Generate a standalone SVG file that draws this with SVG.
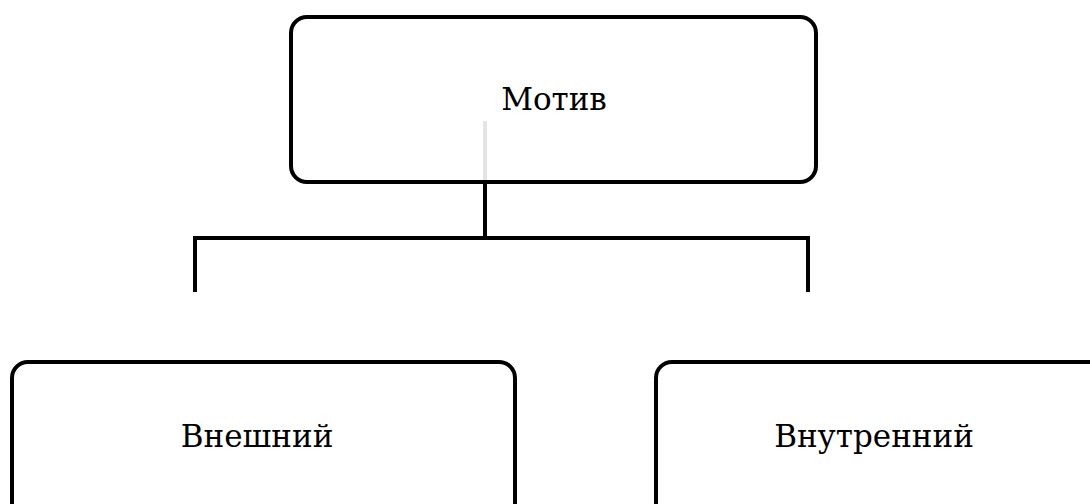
<svg xmlns="http://www.w3.org/2000/svg" width="1090" height="504" viewBox="0 0 1090 504">
<style>
.box{fill:#fff;stroke:#000;stroke-width:4}
.lbl{font-family:"DejaVu Serif","Liberation Serif",serif;font-size:31px;fill:#000;text-anchor:middle}
.con{fill:none;stroke:#000;stroke-width:4}
</style>
<rect width="1090" height="504" fill="#fff"/>
<g id="node-motiv">
<rect class="box" x="291" y="17" width="525" height="165" rx="16"/>
<line x1="485" y1="121" x2="485" y2="180" stroke="#e4e4e4" stroke-width="4"/>
<text class="lbl" x="554" y="110">Мотив</text>
</g>
<g id="node-external">
<rect class="box" x="12" y="362" width="503" height="170" rx="16"/>
<text class="lbl" x="257" y="447">Внешний</text>
</g>
<g id="node-internal">
<rect class="box" x="656" y="362" width="470" height="170" rx="16"/>
<text class="lbl" x="874" y="447">Внутренний</text>
</g>
<g id="connectors">
<path class="con" d="M485 182 V238"/>
<path class="con" d="M195 292 V238 H808 V292"/>
</g>
</svg>
